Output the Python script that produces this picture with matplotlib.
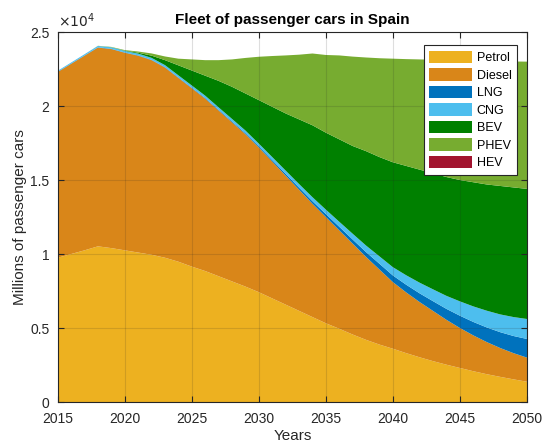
import numpy as np
import matplotlib.pyplot as plt
from matplotlib.ticker import FuncFormatter

plt.rcParams['font.family'] = ['Liberation Sans', 'DejaVu Sans']

years = np.arange(2015, 2051)

# fleet per technology (thousands of cars)
petrol = [9750, 10000, 10250, 10520, 10400, 10250, 10100, 9950, 9750, 9480,
          9150, 8850, 8500, 8150, 7800, 7420, 7000, 6580, 6160, 5740,
          5320, 4950, 4560, 4200, 3880, 3600, 3300, 3020, 2760, 2520,
          2300, 2080, 1880, 1700, 1530, 1370]
diesel = [12550, 12850, 13150, 13430, 13450, 13350, 13300, 13150, 12850, 12420,
          12050, 11650, 11200, 10750, 10300, 9780, 9250, 8720, 8190, 7660,
          7180, 6650, 6140, 5600, 5070, 4500, 4100, 3730, 3390, 3030,
          2700, 2420, 2170, 1950, 1770, 1630]
lng = [20, 20, 20, 20, 20, 20, 25, 25, 30, 35,
       40, 45, 50, 60, 70, 80, 100, 120, 140, 170,
       200, 240, 280, 330, 390, 450, 520, 590, 660, 740,
       830, 910, 990, 1070, 1160, 1260]
cng = [60, 70, 80, 90, 100, 110, 120, 130, 135, 140,
       150, 155, 160, 170, 175, 180, 200, 220, 240, 270,
       300, 340, 390, 440, 500, 560, 640, 720, 800, 880,
       970, 1050, 1130, 1200, 1280, 1350]
bev = [0, 0, 0, 0, 5, 20, 60, 150, 335, 675,
       1010, 1350, 1790, 2170, 2505, 2940, 3400, 3860, 4370, 4860,
       5200, 5570, 5930, 6380, 6710, 7090, 7390, 7640, 7840, 8030,
       8200, 8390, 8530, 8680, 8760, 8790]
phev = [0, 0, 0, 10, 20, 30, 80, 150, 250, 450,
        750, 1050, 1400, 1850, 2400, 2930, 3430, 3920, 4370, 4850,
        5250, 5670, 6040, 6330, 6680, 7000, 7220, 7450, 7680, 7910,
        8090, 8220, 8350, 8430, 8510, 8600]
hev = [0] * 36

labels = ['Petrol', 'Diesel', 'LNG', 'CNG', 'BEV', 'PHEV', 'HEV']
colors = ['#EDB120', '#D98619', '#0072BD', '#4DBEEE', '#008000', '#77AC30', '#A2142F']

fig = plt.figure(figsize=(5.42, 4.45), dpi=100)
ax = fig.add_axes([0.1065, 0.0966, 0.8658, 0.8314])

ax.stackplot(years, petrol, diesel, lng, cng, bev, phev, hev,
             labels=labels, colors=colors, linewidth=0)

ax.set_xlim(2015, 2050)
ax.set_ylim(0, 25000)
ax.set_xticks(np.arange(2015, 2051, 5))
ax.set_yticks(np.arange(0, 25001, 5000))
ax.yaxis.set_major_formatter(FuncFormatter(lambda v, p: f'{v / 1e4:g}'))

dark = '#262626'
ax.set_axisbelow(False)
ax.grid(True, color=dark, alpha=0.15, linewidth=0.8)
ax.tick_params(direction='in', top=True, right=True, colors=dark,
               labelsize=10, length=4)
ax.tick_params(axis='x', pad=7)
ax.tick_params(axis='y', pad=6)
for s in ax.spines.values():
    s.set_color(dark)
    s.set_zorder(5)

ax.text(0.0, 1.005, r'$\times10^{4}$', transform=ax.transAxes,
        ha='left', va='bottom', fontsize=10, color=dark)
ax.set_title('Fleet of passenger cars in Spain', fontsize=11,
             fontweight='bold', pad=6)
ax.set_xlabel('Years', fontsize=11, color=dark, labelpad=2)
ax.set_ylabel('Millions of passenger cars', fontsize=11, color=dark, labelpad=2)

leg = ax.legend(loc='upper right', bbox_to_anchor=(0.979, 0.965), fontsize=9,
                fancybox=False, edgecolor=dark, framealpha=1, borderaxespad=0,
                handlelength=3.4, handleheight=1.15, labelspacing=0.33,
                borderpad=0.45, handletextpad=0.4)
leg.get_frame().set_linewidth(0.8)

fig.savefig('out.png', dpi=100)
